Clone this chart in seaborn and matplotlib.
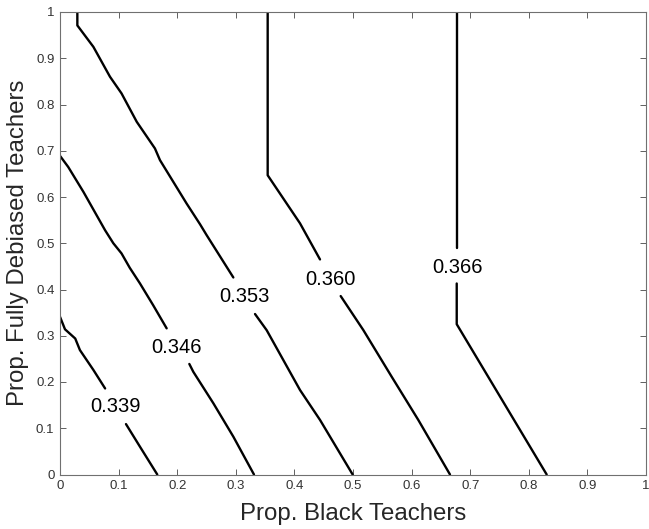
import matplotlib
matplotlib.use("Agg")
import matplotlib.pyplot as plt
import seaborn as sns

sns.set_style("white")
plt.rcParams['font.family'] = ['Liberation Sans', 'DejaVu Sans']

# Contour levels and label positions
levels = ["0.339", "0.346", "0.353", "0.360", "0.366"]
label_x = [0.094, 0.198, 0.315, 0.461, 0.678]
label_y = [0.147, 0.275, 0.384, 0.422, 0.447]

# Contour 0.339 (two pieces around its label)
c339_a_x = [0.0, 0.0085, 0.026, 0.034, 0.057, 0.077]
c339_a_y = [0.341, 0.314, 0.294, 0.269, 0.226, 0.186]
c339_b_x = [0.1126, 0.1365, 0.166]
c339_b_y = [0.109, 0.060, 0.0]

# Contour 0.346
c346_a_x = [0.0, 0.014, 0.040, 0.077, 0.091, 0.105, 0.119, 0.1365, 0.159, 0.182]
c346_a_y = [0.689, 0.665, 0.611, 0.528, 0.500, 0.478, 0.447, 0.413, 0.366, 0.316]
c346_b_x = [0.2207, 0.2275, 0.2617, 0.2958, 0.331]
c346_b_y = [0.239, 0.222, 0.154, 0.0818, 0.0]

# Contour 0.353
c353_a_x = [0.0296, 0.0296, 0.057, 0.0853, 0.105, 0.131, 0.162, 0.1706, 0.216,
            0.239, 0.250, 0.2958]
c353_a_y = [1.0, 0.971, 0.9246, 0.860, 0.824, 0.7625, 0.705, 0.6797, 0.586,
            0.541, 0.518, 0.426]
c353_b_x = [0.3328, 0.3527, 0.4096, 0.4437, 0.4994]
c353_b_y = [0.347, 0.312, 0.1826, 0.118, 0.0]

# Contour 0.360
c360_a_x = [0.3544, 0.3544, 0.4096, 0.4437]
c360_a_y = [1.0, 0.647, 0.543, 0.465]
c360_b_x = [0.479, 0.5176, 0.566, 0.6115, 0.6655]
c360_b_y = [0.3858, 0.3123, 0.2114, 0.1178, 0.0]

# Contour 0.366
c366_a_x = [0.677, 0.677]
c366_a_y = [1.0, 0.489]
c366_b_x = [0.677, 0.677, 0.8305]
c366_b_y = [0.413, 0.325, 0.0]

tick_vals = [0, 0.1, 0.2, 0.3, 0.4, 0.5, 0.6, 0.7, 0.8, 0.9, 1]
tick_labels = ["0", "0.1", "0.2", "0.3", "0.4", "0.5", "0.6", "0.7", "0.8", "0.9", "1"]

fig = plt.figure(figsize=(6.49, 5.29), dpi=100)
ax = fig.add_axes([60 / 649, 1 - 474.5 / 529, 586 / 649, 462.5 / 529])

segments = [
    (c339_a_x, c339_a_y), (c339_b_x, c339_b_y),
    (c346_a_x, c346_a_y), (c346_b_x, c346_b_y),
    (c353_a_x, c353_a_y), (c353_b_x, c353_b_y),
    (c360_a_x, c360_a_y), (c360_b_x, c360_b_y),
    (c366_a_x, c366_a_y), (c366_b_x, c366_b_y),
]
for sx, sy in segments:
    sns.lineplot(x=sx, y=sy, sort=False, estimator=None, color="black",
                 linewidth=1.7, ax=ax, legend=False)

for lab, lx, ly in zip(levels, label_x, label_y):
    ax.text(lx, ly, lab, ha="center", va="center", fontsize=14.5, color="black")

ax.set_xlim(0, 1)
ax.set_ylim(0, 1)
ax.set_xticks(tick_vals)
ax.set_xticklabels(tick_labels)
ax.set_yticks(tick_vals)
ax.set_yticklabels(tick_labels)
ax.tick_params(direction="in", length=4, width=0.7, color="#606060",
               labelsize=9.5, labelcolor="#333333", top=True, right=True,
               bottom=True, left=True, pad=4)
for sp in ax.spines.values():
    sp.set_visible(True)
    sp.set_color("#707070")
    sp.set_linewidth(0.8)

ax.set_xlabel("Prop. Black Teachers", fontsize=17.3, color="#262626", labelpad=8)
ax.set_ylabel("Prop. Fully Debiased Teachers", fontsize=17.3, color="#262626", labelpad=5)

fig.savefig("out.png", dpi=100, facecolor="white")
